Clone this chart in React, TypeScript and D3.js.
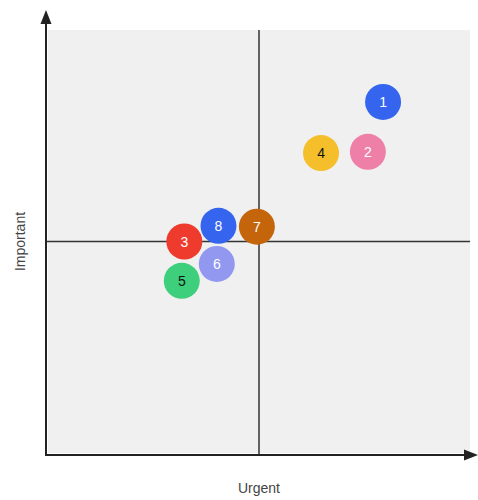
import React from "react";
import * as d3 from "d3";

const labels = ["1", "2", "3", "4", "5", "6", "7", "8"];
const urgency = [79.4, 75.8, 32.3, 64.7, 31.7, 40.0, 49.5, 40.4];
const importance = [83.0, 71.2, 50.0, 70.9, 40.7, 44.7, 53.5, 53.7];
const colors = ["#3565ee", "#ee7fa6", "#ee3b2e", "#f4bf2b", "#3dcf7c", "#9298f0", "#c4650c", "#3565ee"];
const textColors = ["#fff", "#fff", "#fff", "#111", "#111", "#fff", "#fff", "#fff"];
const xTitle = "Urgent";
const yTitle = "Important";

export default function App() {
  const W = 478, H = 500;
  const left = 48, right = 470, top = 30, bottom = 453;
  const x = d3.scaleLinear().domain([0, 100]).range([left, right]);
  const y = d3.scaleLinear().domain([0, 100]).range([bottom, top]);
  const axisX = 46, axisY = 455;
  const order = [0, 1, 3, 6, 7, 2, 5, 4];
  return (
    <svg width={W} height={H} style={{ position: "absolute", left: 0, top: 0, background: "#fff" }}
      fontFamily="Liberation Sans, Arial, sans-serif">
      <rect x={left} y={top} width={right - left} height={bottom - top} fill="#f0f0f0" />
      <line x1={x(50)} x2={x(50)} y1={top} y2={axisY} stroke="#333" strokeWidth={1.5} />
      <line x1={axisX} x2={right} y1={y(50)} y2={y(50)} stroke="#333" strokeWidth={1.5} />
      <line x1={axisX} x2={axisX} y1={axisY + 1} y2={22} stroke="#222" strokeWidth={2} />
      <path d={`M${axisX - 5.5},${24} L${axisX},${10} L${axisX + 5.5},${24} Z`} fill="#222" />
      <line x1={axisX - 1} x2={466} y1={axisY} y2={axisY} stroke="#222" strokeWidth={2} />
      <path d={`M${464},${axisY - 5.5} L${478},${axisY} L${464},${axisY + 5.5} Z`} fill="#222" />
      {order.map((i) => (
        <g key={labels[i]} transform={`translate(${x(urgency[i])},${y(importance[i])})`}>
          <circle r={18} fill={colors[i]} />
          <text textAnchor="middle" dy="0.36em" fontSize={14} fill={textColors[i]}>{labels[i]}</text>
        </g>
      ))}
      <text x={x(50)} y={493} textAnchor="middle" fontSize={14} fill="#444">{xTitle}</text>
      <text transform={`translate(25,${y(50)}) rotate(-90)`} textAnchor="middle" fontSize={14} fill="#444">{yTitle}</text>
    </svg>
  );
}
